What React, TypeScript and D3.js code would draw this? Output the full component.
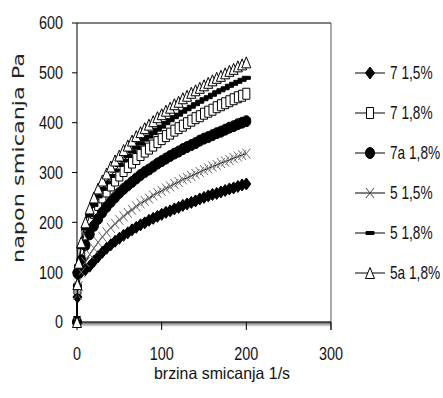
import React, { useEffect, useRef } from 'react';
import * as d3 from 'd3';

// shear rate (1/s) shared by every series
const shearRate = [0, 0.5, 2, 5, 10, 15, 20, 25, 30, 35, 40, 45, 50, 55, 60, 65, 70, 75, 80, 85, 90, 95, 100,
  105, 110, 115, 120, 125, 130, 135, 140, 145, 150, 155, 160, 165, 170, 175, 180, 185, 190, 195, 200];

const s7_15 = [0, 50, 98, 100, 105, 112, 122, 131, 140, 148, 155, 162, 168, 174, 179, 185, 190, 195, 199, 204, 208, 212, 216,
  220, 223, 227, 230, 234, 237, 240, 243, 247, 250, 253, 256, 258, 261, 264, 267, 269, 272, 275, 277];
const s7_18 = [0, 67, 105, 141, 175, 200, 219, 235, 250, 262, 274, 284, 294, 303, 311, 320, 327, 335, 342, 348, 354, 361, 367,
  373, 378, 384, 389, 394, 399, 404, 409, 413, 418, 422, 426, 431, 435, 439, 443, 447, 451, 454, 458];
const s7a_18 = [0, 98, 100, 124, 154, 176, 193, 207, 220, 231, 241, 250, 259, 267, 274, 281, 288, 295, 301, 306, 312, 318, 323,
  328, 333, 338, 342, 347, 351, 355, 359, 364, 368, 371, 375, 379, 382, 386, 390, 393, 397, 400, 403];
const s5_15 = [0, 55, 72, 100, 120, 136, 148, 160, 171, 180, 189, 197, 205, 212, 219, 225, 232, 238, 243, 248, 254, 259, 263,
  268, 272, 277, 281, 286, 289, 293, 297, 301, 305, 308, 312, 315, 319, 322, 325, 329, 332, 335, 338];
const s5_18 = [0, 72, 112, 150, 188, 214, 235, 252, 267, 280, 293, 304, 315, 324, 333, 342, 350, 358, 366, 372, 379, 386, 392,
  399, 405, 411, 416, 422, 427, 432, 437, 442, 447, 451, 456, 461, 465, 469, 474, 478, 482, 486, 490];
const s5a_18 = [0, 76, 119, 160, 200, 228, 250, 268, 284, 298, 312, 324, 334, 345, 354, 364, 373, 381, 389, 396, 403, 411, 417,
  424, 430, 437, 442, 449, 454, 460, 465, 470, 475, 480, 485, 490, 494, 499, 504, 508, 513, 517, 521];

const seriesNames = ['7 1,5%', '7 1,8%', '7a 1,8%', '5 1,5%', '5 1,8%', '5a 1,8%'];
const xTicks = [0, 100, 200, 300];
const yTicks = [0, 100, 200, 300, 400, 500, 600];

type MarkerKind = 'diamond' | 'square' | 'circle' | 'cross' | 'dash' | 'triangle';

const seriesStyle: { values: number[]; marker: MarkerKind; fill: string; stroke: string }[] = [
  { values: s7_15, marker: 'diamond', fill: '#000', stroke: '#000' },
  { values: s7_18, marker: 'square', fill: '#fff', stroke: '#000' },
  { values: s7a_18, marker: 'circle', fill: '#000', stroke: '#000' },
  { values: s5_15, marker: 'cross', fill: 'none', stroke: '#6e6e6e' },
  { values: s5_18, marker: 'dash', fill: '#000', stroke: '#000' },
  { values: s5a_18, marker: 'triangle', fill: '#fff', stroke: '#000' },
];

const FONT = '"Liberation Sans", Arial, sans-serif';

// marker outline centred on 0,0 (the original is a bit taller than wide)
const markerPath = (kind: MarkerKind, w: number, h: number) => {
  const a = w / 2;
  const b = h / 2;
  switch (kind) {
    case 'diamond':
      return `M0,${-b}L${a},0L0,${b}L${-a},0Z`;
    case 'square':
      return `M${-a},${-b}H${a}V${b}H${-a}Z`;
    case 'circle':
      return `M${-a},0A${a},${b} 0 1,0 ${a},0A${a},${b} 0 1,0 ${-a},0Z`;
    case 'cross':
      return `M${-a},${-b}L${a},${b}M${a},${-b}L${-a},${b}`;
    case 'dash':
      return `M${-a},-1.5H${a}V1.5H${-a}Z`;
    case 'triangle':
      return `M0,${-b}L${a},${b}H${-a}Z`;
  }
};

const markerSize: Record<MarkerKind, [number, number]> = {
  diamond: [9, 12],
  square: [7, 11],
  circle: [9, 11],
  cross: [8, 10],
  dash: [8, 3],
  triangle: [9, 11],
};

export default function App() {
  const ref = useRef<SVGSVGElement>(null);

  useEffect(() => {
    if (!ref.current) return;
    const svg = d3.select(ref.current);
    svg.selectAll('*').remove();

    const left = 77, right = 331, top = 23, bottom = 322;

    const x = d3.scaleLinear().domain([0, 300]).range([left, right]);
    const y = d3.scaleLinear().domain([0, 600]).range([bottom, top]);

    // narrow text: source font is condensed, so squeeze it sideways
    const label = (px: number, py: number, sx: number, anchor: string, size: number, txt: string) =>
      svg.append('g')
        .attr('transform', `translate(${px},${py}) scale(${sx},1)`)
        .append('text')
        .attr('text-anchor', anchor)
        .attr('font-family', FONT)
        .attr('font-size', size)
        .attr('fill', '#111')
        .text(txt);

    // bottom axis shadow
    const defs = svg.append('defs');
    const grad = defs.append('linearGradient').attr('id', 'shadow').attr('x1', 0).attr('y1', 0).attr('x2', 0).attr('y2', 1);
    grad.append('stop').attr('offset', 0).attr('stop-color', '#555');
    grad.append('stop').attr('offset', 1).attr('stop-color', '#fff');
    svg.append('rect').attr('x', left).attr('y', bottom).attr('width', right - left).attr('height', 5).attr('fill', 'url(#shadow)');

    // frame
    svg.append('line').attr('x1', left).attr('x2', right).attr('y1', top).attr('y2', top).attr('stroke', '#000');
    svg.append('line').attr('x1', right).attr('x2', right).attr('y1', top).attr('y2', bottom + 8).attr('stroke', '#555');
    svg.append('line').attr('x1', left).attr('x2', left).attr('y1', top).attr('y2', bottom).attr('stroke', '#000');
    svg.append('line').attr('x1', left).attr('x2', right).attr('y1', bottom).attr('y2', bottom).attr('stroke', '#333').attr('stroke-width', 1.5);

    // y ticks + labels
    yTicks.forEach(t => {
      svg.append('line').attr('x1', left - 5).attr('x2', left).attr('y1', y(t)).attr('y2', y(t)).attr('stroke', '#000');
      label(63, y(t), 0.8, 'end', 18, String(t)).attr('dy', '0.36em');
    });

    // x ticks + labels
    xTicks.forEach(t => {
      svg.append('line').attr('x1', x(t)).attr('x2', x(t)).attr('y1', bottom).attr('y2', bottom + 8).attr('stroke', '#000');
      label(x(t), 360, 0.8, 'middle', 18, String(t));
    });

    // axis titles
    label(154, 379, 0.8, 'start', 16.5, 'brzina smicanja 1/s')
      .attr('textLength', 170).attr('lengthAdjust', 'spacingAndGlyphs');
    svg.append('text')
      .attr('transform', 'translate(24,263) rotate(-90)')
      .attr('font-family', '"DejaVu Sans", Verdana, sans-serif').attr('font-size', 15).attr('fill', '#222')
      .attr('textLength', 210).attr('lengthAdjust', 'spacingAndGlyphs')
      .text('napon smicanja Pa');

    // series
    const line = d3.line<number>().x((_, i) => x(shearRate[i])).y(d => y(d));
    seriesStyle.forEach(s => {
      const g = svg.append('g');
      g.append('path').attr('d', line(s.values)).attr('fill', 'none').attr('stroke', '#000').attr('stroke-width', 1);
      const [w, h] = markerSize[s.marker];
      g.selectAll('path.m')
        .data(s.values)
        .enter().append('path')
        .attr('class', 'm')
        .attr('transform', (d, i) => `translate(${x(shearRate[i])},${y(d)})`)
        .attr('d', markerPath(s.marker, w, h))
        .attr('fill', s.fill)
        .attr('stroke', s.stroke)
        .attr('stroke-width', 1);
    });

    // legend
    seriesStyle.forEach((s, i) => {
      const cy = 73 + i * 40;
      svg.append('line').attr('x1', 355).attr('x2', 385).attr('y1', cy).attr('y2', cy).attr('stroke', '#000');
      const [w, h] = markerSize[s.marker];
      svg.append('path')
        .attr('transform', `translate(370,${cy})`)
        .attr('d', markerPath(s.marker, w, h))
        .attr('fill', s.fill).attr('stroke', s.marker === 'cross' ? '#444' : s.stroke);
      label(390, cy, 0.76, 'start', 18, seriesNames[i]).attr('dy', '0.36em');
    });
  }, []);

  return (
    <svg
      ref={ref}
      width={443}
      height={398}
      style={{ position: 'absolute', left: 0, top: 0, background: '#fff' }}
    />
  );
}
